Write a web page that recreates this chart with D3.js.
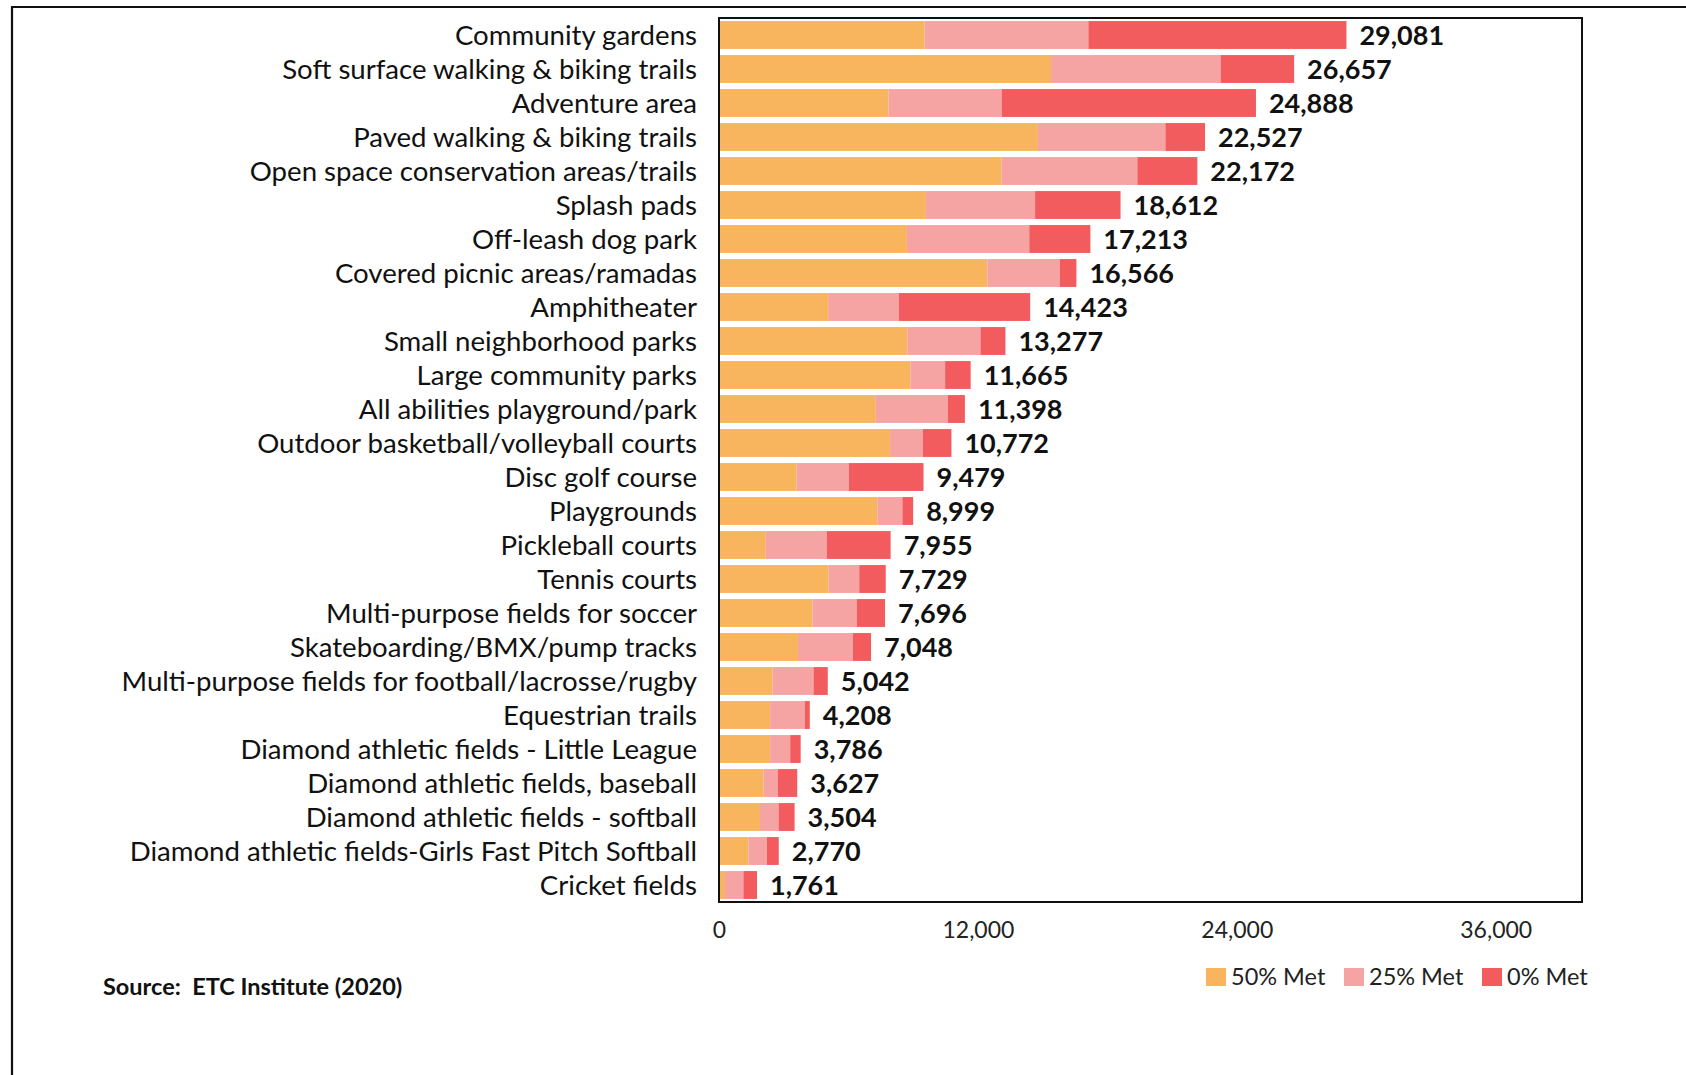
<!DOCTYPE html>
<html>
<head>
<meta charset="utf-8">
<script src="https://cdn.jsdelivr.net/npm/d3@7"></script>
<style>
  html, body { margin: 0; padding: 0; background: #fff; }
  svg { display: block; }
</style>
</head>
<body>
<svg id="chart" width="1686" height="1075"></svg>
<script>
// Facilities, ordered by total unmet need (households)
const categories = [
  "Community gardens",
  "Soft surface walking & biking trails",
  "Adventure area",
  "Paved walking & biking trails",
  "Open space conservation areas/trails",
  "Splash pads",
  "Off-leash dog park",
  "Covered picnic areas/ramadas",
  "Amphitheater",
  "Small neighborhood parks",
  "Large community parks",
  "All abilities playground/park",
  "Outdoor basketball/volleyball courts",
  "Disc golf course",
  "Playgrounds",
  "Pickleball courts",
  "Tennis courts",
  "Multi-purpose fields for soccer",
  "Skateboarding/BMX/pump tracks",
  "Multi-purpose fields for football/lacrosse/rugby",
  "Equestrian trails",
  "Diamond athletic fields - Little League",
  "Diamond athletic fields, baseball",
  "Diamond athletic fields - softball",
  "Diamond athletic fields-Girls Fast Pitch Softball",
  "Cricket fields"
];

// Households whose needs are 50% met, 25% met, and 0% met
const met50 = [9530, 15390, 7860, 14780, 13100, 9590, 8710, 12440, 5060, 8730, 8870, 7270, 7930,
               3600, 7340, 2170, 5080, 4330, 3660, 2480, 2370, 2370, 2060, 1900, 1360, 280];
const met25 = [7590, 7860, 5240, 5910, 6290, 5060, 5670, 3350, 3280, 3390, 1610, 3330, 1520,
               2420, 1160, 2820, 1420, 2050, 2540, 1900, 1600, 930, 670, 860, 860, 850];
const met0  = [11961, 3407, 11788, 1837, 2782, 3962, 2833, 776, 6083, 1157, 1185, 798, 1322,
               3459, 499, 2965, 1229, 1316, 848, 662, 238, 486, 897, 744, 550, 631];

const seriesNames = ["50% Met", "25% Met", "0% Met"];
const seriesColors = ["#F8B55E", "#F6A3A4", "#F35C5F"];
const xTicks = [0, 12000, 24000, 36000];
const xMax = 40000;
const sourceNote = "Source:  ETC Institute (2020)";

const rows = categories.map((c, i) => ({
  name: c,
  "50% Met": met50[i],
  "25% Met": met25[i],
  "0% Met": met0[i],
  total: met50[i] + met25[i] + met0[i]
}));

const svg = d3.select("#chart");
const plot = { left: 719, right: 1582, top: 18, bottom: 902 };

const x = d3.scaleLinear().domain([0, xMax]).range([plot.left, plot.right]);
const y = d3.scaleBand().domain(categories).range([plot.top, plot.bottom])
  .paddingInner(0.18).paddingOuter(0.09);
const color = d3.scaleOrdinal().domain(seriesNames).range(seriesColors);

const stacked = d3.stack().keys(seriesNames)(rows);

const FONT = "Lato, 'Open Sans', sans-serif";

// Outer page frame (top and left edges visible)
svg.append("path")
  .attr("d", `M 12 1075 V 7 H 1686`)
  .attr("fill", "none").attr("stroke", "#111").attr("stroke-width", 2.2);

// Stacked bars
svg.append("g").selectAll("g")
  .data(stacked)
  .join("g")
  .attr("fill", d => color(d.key))
  .selectAll("rect")
  .data(d => d)
  .join("rect")
  .attr("x", d => x(d[0]))
  .attr("y", d => y(d.data.name))
  .attr("width", d => x(d[1]) - x(d[0]))
  .attr("height", y.bandwidth());

// Plot frame
svg.append("rect")
  .attr("x", plot.left).attr("y", plot.top)
  .attr("width", plot.right - plot.left).attr("height", plot.bottom - plot.top)
  .attr("fill", "none").attr("stroke", "#111").attr("stroke-width", 2);

// Category labels
svg.append("g").selectAll("text")
  .data(rows)
  .join("text")
  .attr("x", 697)
  .attr("y", d => y(d.name) + y.bandwidth() / 2)
  .attr("dy", "0.38em")
  .attr("text-anchor", "end")
  .attr("font-family", FONT)
  .attr("font-size", 27.6)
  .attr("fill", "#111")
  .text(d => d.name);

// Total labels
const fmt = d3.format(",");
svg.append("g").selectAll("text")
  .data(rows)
  .join("text")
  .attr("x", d => x(d.total) + 13)
  .attr("y", d => y(d.name) + y.bandwidth() / 2)
  .attr("dy", "0.38em")
  .attr("font-family", FONT)
  .attr("font-weight", "bold")
  .attr("font-size", 27)
  .attr("fill", "#111")
  .text(d => fmt(d.total));

// X axis (labels only)
const xAxis = d3.axisBottom(x).tickValues(xTicks).tickFormat(fmt).tickSize(0).tickPadding(0);
const gx = svg.append("g").attr("transform", `translate(0, 922)`).call(xAxis);
gx.select(".domain").remove();
gx.selectAll("text")
  .attr("font-family", FONT)
  .attr("font-size", 23)
  .attr("fill", "#222")
  .attr("dy", "0.71em");

// Legend
const legendX = [1206, 1344, 1482];
const legend = svg.append("g").selectAll("g")
  .data(seriesNames)
  .join("g")
  .attr("transform", (d, i) => `translate(${legendX[i]}, 977)`);
legend.append("rect")
  .attr("x", 0).attr("y", -9).attr("width", 20).attr("height", 18)
  .attr("fill", d => color(d));
legend.append("text")
  .attr("x", 25).attr("dy", "0.35em")
  .attr("font-family", FONT)
  .attr("font-size", 23.5)
  .attr("fill", "#222")
  .text(d => d);

// Source note
svg.append("text")
  .attr("x", 103).attr("y", 987).attr("dy", "0.35em")
  .attr("font-family", FONT)
  .attr("font-weight", "bold")
  .attr("font-size", 23.5)
  .attr("fill", "#111")
  .style("white-space", "pre")
  .text(sourceNote);
</script>
</body>
</html>
